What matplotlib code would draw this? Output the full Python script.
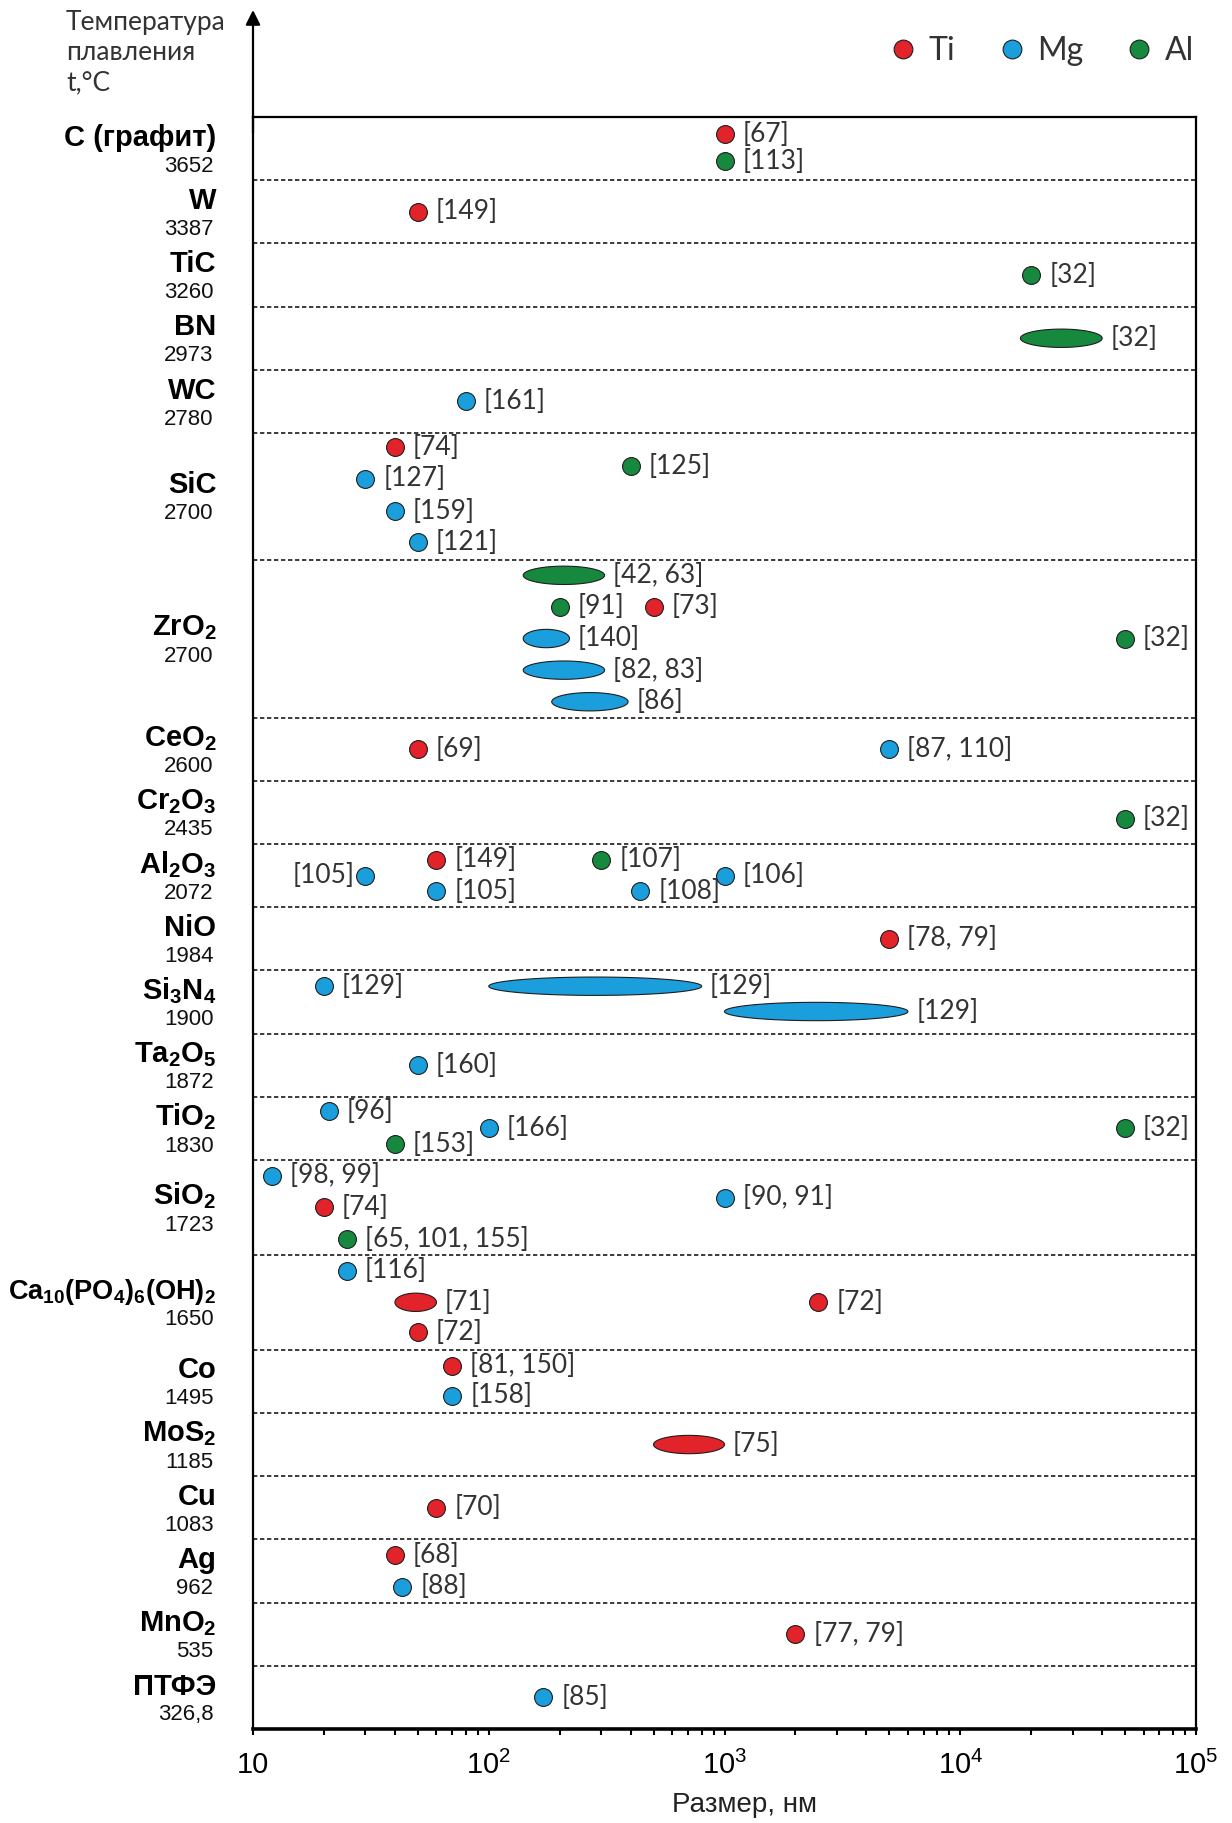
import numpy as np
import matplotlib
matplotlib.use('Agg')
import matplotlib.pyplot as plt
from matplotlib.lines import Line2D
from matplotlib.ticker import FixedLocator, FixedFormatter, LogLocator, NullFormatter
import matplotlib.transforms as mtransforms

plt.rcParams['mathtext.fontset'] = 'custom'
plt.rcParams['mathtext.rm'] = 'Liberation Sans'
plt.rcParams['mathtext.bf'] = 'Liberation Sans:bold'
plt.rcParams['font.family'] = ['Liberation Sans', 'DejaVu Sans']

# ---------------- data ----------------
materials = ['C (графит)', 'W', 'TiC', 'BN', 'WC', 'SiC',
             r'$\mathbf{ZrO_2}$', r'$\mathbf{CeO_2}$', r'$\mathbf{Cr_2O_3}$', r'$\mathbf{Al_2O_3}$',
             'NiO', r'$\mathbf{Si_3N_4}$', r'$\mathbf{Ta_2O_5}$', r'$\mathbf{TiO_2}$', r'$\mathbf{SiO_2}$',
             r'$\mathbf{Ca_{10}(PO_4)_6(OH)_2}$', 'Co', r'$\mathbf{MoS_2}$', 'Cu', 'Ag',
             r'$\mathbf{MnO_2}$', 'ПТФЭ']
melting_t = ['3652', '3387', '3260', '2973', '2780', '2700', '2700', '2600', '2435', '2072',
             '1984', '1900', '1872', '1830', '1723', '1650', '1495', '1185', '1083', '962',
             '535', '326,8']
row_slots = [2, 2, 2, 2, 2, 4, 5, 2, 2, 2, 2, 2, 2, 2, 3, 3, 2, 2, 2, 2, 2, 2]

metals = ['Ti', 'Mg', 'Al']
metal_colors = {'Ti': '#E2232A', 'Mg': '#1A9FDC', 'Al': '#17893F'}

pt_metal = ['Ti', 'Al', 'Ti', 'Al', 'Al', 'Mg',
            'Ti', 'Mg', 'Mg', 'Mg', 'Al',
            'Al', 'Al', 'Ti', 'Mg', 'Mg', 'Mg', 'Al',
            'Ti', 'Mg', 'Al',
            'Ti', 'Al', 'Mg', 'Mg', 'Mg', 'Mg',
            'Ti', 'Mg', 'Mg', 'Mg', 'Mg',
            'Mg', 'Al', 'Mg', 'Al',
            'Mg', 'Ti', 'Al', 'Mg',
            'Mg', 'Ti', 'Ti', 'Ti',
            'Ti', 'Mg', 'Ti', 'Ti', 'Ti', 'Mg', 'Ti', 'Mg']
pt_size_min = [1000, 1000, 50, 20000, 18000, 80,
               40, 30, 40, 50, 400,
               140, 200, 500, 140, 140, 185, 50000,
               50, 5000, 50000,
               60, 300, 30, 60, 440, 1000,
               5000, 20, 100, 1000, 50,
               21, 40, 100, 50000,
               12, 20, 25, 1000,
               25, 40, 50, 2500,
               70, 70, 500, 60, 40, 43, 2000, 170]
pt_size_max = [1000, 1000, 50, 20000, 40000, 80,
               40, 30, 40, 50, 400,
               310, 200, 500, 220, 310, 390, 50000,
               50, 5000, 50000,
               60, 300, 30, 60, 440, 1000,
               5000, 20, 800, 6000, 50,
               21, 40, 100, 50000,
               12, 20, 25, 1000,
               25, 60, 50, 2500,
               70, 70, 1000, 60, 40, 43, 2000, 170]
pt_slot = [0.55, 1.4, 3.0, 5.0, 7.0, 9.0,
           10.45, 11.45, 12.47, 13.45, 11.05,
           14.5, 15.5, 15.5, 16.5, 17.5, 18.5, 16.5,
           20.0, 20.0, 22.2,
           23.5, 23.5, 24.0, 24.5, 24.5, 24.0,
           26.0, 27.5, 27.5, 28.3, 30.0,
           31.45, 32.5, 32.0, 32.0,
           33.5, 34.5, 35.5, 34.2,
           36.5, 37.5, 38.45, 37.5,
           39.5, 40.45, 42.0, 44.0, 45.5, 46.5, 48.0, 50.0]
pt_ref = ['[67]', '[113]', '[149]', '[32]', '[32]', '[161]',
          '[74]', '[127]', '[159]', '[121]', '[125]',
          '[42, 63]', '[91]', '[73]', '[140]', '[82, 83]', '[86]', '[32]',
          '[69]', '[87, 110]', '[32]',
          '[149]', '[107]', '[105]', '[105]', '[108]', '[106]',
          '[78, 79]', '[129]', '[129]', '[129]', '[160]',
          '[96]', '[153]', '[166]', '[32]',
          '[98, 99]', '[74]', '[65, 101, 155]', '[90, 91]',
          '[116]', '[71]', '[72]', '[72]',
          '[81, 150]', '[158]', '[75]', '[70]', '[68]', '[88]', '[77, 79]', '[85]']
pt_label_left = [23]

x_ticks = [10, 100, 1000, 10000, 100000]
x_ticklabels = ['10', r'$\mathregular{10^2}$', r'$\mathregular{10^3}$',
                r'$\mathregular{10^4}$', r'$\mathregular{10^5}$']

# ---------------- figure ----------------
W, H = 1232, 1823
fig = plt.figure(figsize=(W / 100, H / 100), dpi=100)
ax = fig.add_axes([253 / W, 1 - 1729 / H, (1196 - 253) / W, (1729 - 117) / H])

total = sum(row_slots)
ax.set_xscale('log')
ax.set_xlim(10, 1e5)
ax.set_ylim(total, 0)

bounds = np.cumsum([0] + row_slots)
ax.hlines(bounds[1:-1], 10, 1e5, colors='#1a1a1a', linestyles=(0, (2.6, 1.6)), lw=1.2, zorder=1)

label_font = ['Lato', 'DejaVu Sans']
edge = '#1e1e1e'
t = np.linspace(0, 2 * np.pi, 200)
for i in range(len(pt_metal)):
    c = metal_colors[pt_metal[i]]
    lo, hi, y = pt_size_min[i], pt_size_max[i], pt_slot[i]
    if lo == hi:
        ax.scatter([lo], [y], s=165, color=c, edgecolors=edge, linewidths=0.8, zorder=3)
        dx = 13
        xa = lo
    else:
        cl = (np.log10(lo) + np.log10(hi)) / 2
        al = (np.log10(hi) - np.log10(lo)) / 2
        ax.fill(10 ** (cl + al * np.cos(t)), y + 0.29 * np.sin(t), facecolor=c,
                edgecolor=edge, lw=0.8, zorder=3)
        dx = 6
        xa = hi
    if i in pt_label_left:
        ax.annotate(pt_ref[i], xy=(lo, y), xytext=(-8, 0), textcoords='offset points',
                    ha='right', va='center', fontsize=19, color='#333333', family=label_font)
    else:
        ax.annotate(pt_ref[i], xy=(xa, y), xytext=(dx, 0), textcoords='offset points',
                    ha='left', va='center', fontsize=19, color='#333333', family=label_font)

# category labels
trans = mtransforms.blended_transform_factory(ax.transAxes, ax.transData)
for k, (name, temp) in enumerate(zip(materials, melting_t)):
    yc = (bounds[k] + bounds[k + 1]) / 2
    fs = 19.5 if name.startswith(r'$\mathbf{Ca') else 21
    ax.text(-0.039, yc - 0.09, name, transform=trans, ha='right', va='baseline',
            fontsize=fs, fontweight='bold', color='black')
    ax.text(-0.042, yc + 0.73, temp, transform=trans, ha='right', va='baseline',
            fontsize=16, color='#111111')

# spines and ticks
for s in ['left', 'top', 'right']:
    ax.spines[s].set_linewidth(1.6)
ax.spines['bottom'].set_linewidth(2.6)
ax.xaxis.set_major_locator(FixedLocator(x_ticks))
ax.xaxis.set_major_formatter(FixedFormatter(x_ticklabels))
ax.xaxis.set_minor_locator(LogLocator(base=10, subs=np.arange(2, 10)))
ax.xaxis.set_minor_formatter(NullFormatter())
ax.tick_params(axis='x', which='both', direction='out', length=4, width=1.5, pad=12,
               labelsize=21)
ax.tick_params(axis='y', left=False, labelleft=False)
ax.set_yticks([])

# arrow on the vertical axis
ax.annotate('', xy=(0, 1 + 107 / 1612), xytext=(0, 0.99), xycoords='axes fraction',
            arrowprops=dict(arrowstyle='-|>', lw=1.6, color='black', mutation_scale=22,
                            shrinkA=0, shrinkB=0), annotation_clip=False)

fig.text(66 / W, 1 - 10 / H, 'Температура\nплавления\nt,°C', ha='left', va='top',
         fontsize=19, color='#333333', family=label_font, linespacing=1.25)

fig.text(744 / W, 1 - 1805 / H, 'Размер, нм', ha='center', va='center', fontsize=20,
         color='#222222')

handles = [Line2D([], [], marker='o', ls='', markersize=13.5, markerfacecolor=metal_colors[m],
                  markeredgecolor=edge, markeredgewidth=0.8) for m in metals]
leg = ax.legend(handles, metals, ncol=3, loc='center right', bbox_to_anchor=(1210 / W, 1 - 51 / H),
                bbox_transform=fig.transFigure, frameon=False, borderpad=0, handlelength=1.0,
                handletextpad=0.3, columnspacing=1.25, prop={'family': label_font, 'size': 23})
for txt in leg.get_texts():
    txt.set_color('#333333')

fig.savefig('out.png', dpi=100)
